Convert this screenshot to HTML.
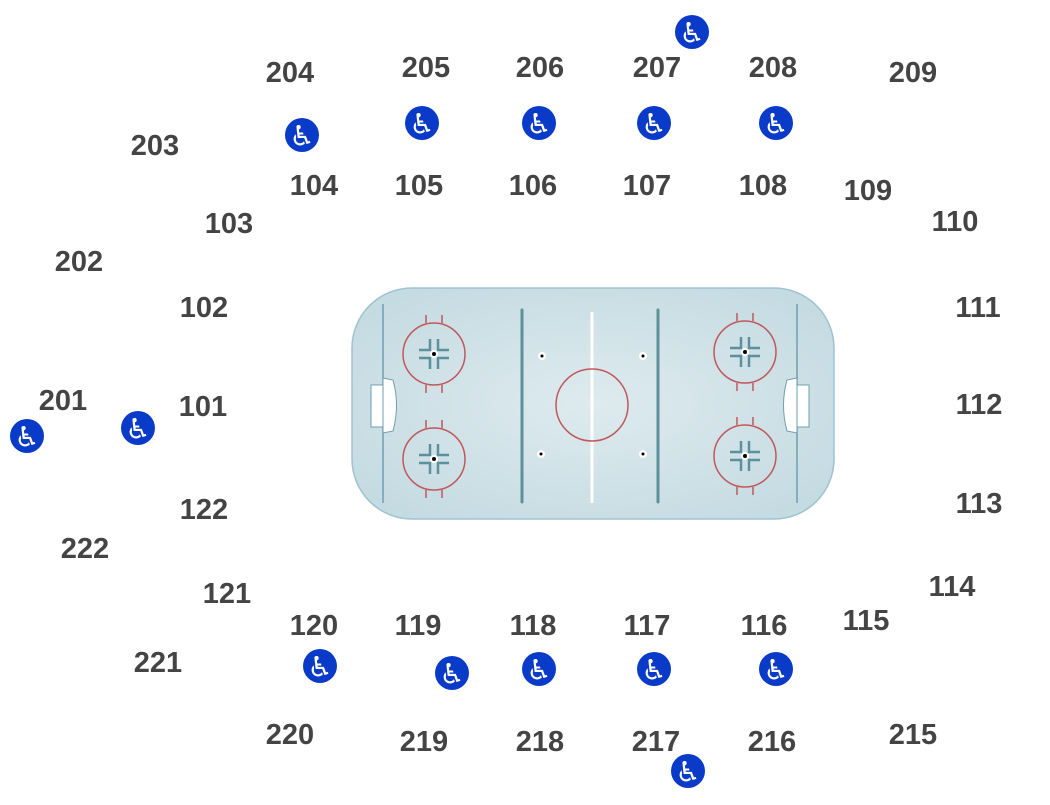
<!DOCTYPE html>
<html><head><meta charset="utf-8"><style>
body{margin:0;background:#fff;width:1050px;height:800px;overflow:hidden}
svg text{font-family:"Liberation Sans",Arial,sans-serif;font-weight:bold;font-size:29px;fill:#444;text-anchor:middle;dominant-baseline:central}
svg text.w{font-family:"DejaVu Sans",sans-serif;font-weight:normal;font-size:28px;fill:#fff}
</style></head><body>
<svg width="1050" height="800" viewBox="0 0 1050 800">
<defs><radialGradient id="g" cx="0.5" cy="0.5" r="0.6"><stop offset="0" stop-color="#deebef"/><stop offset="1" stop-color="#c5dbe2"/></radialGradient>
<g id="fo">
<circle cx="0" cy="0" r="31" fill="none" stroke="#c0585a" stroke-width="1.5"/>
<path d="M-8 -31 V-39 M8 -31 V-39 M-8 31 V39 M8 31 V39" stroke="#c0585a" stroke-width="1.5"/>
<path d="M-15 -4 H-4 V-15 M15 -4 H4 V-15 M-15 4 H-4 V15 M15 4 H4 V15" fill="none" stroke="#5e8f9c" stroke-width="2.5"/>
<circle r="4" fill="#fff"/><circle r="2" fill="#000"/>
</g>
<g id="ic"><circle r="17" fill="#0a3bc8"/><text class="w" y="1">♿</text></g>
</defs>
<rect x="352" y="288" width="482" height="231" rx="60" ry="60" fill="url(#g)" stroke="#9fc3cf" stroke-width="1.5"/>
<g stroke="#6f9fad" stroke-width="1.5"><line x1="383" y1="304" x2="383" y2="503"/><line x1="797" y1="304" x2="797" y2="503"/></g>
<g stroke="#5e8f9c" stroke-width="3" stroke-linecap="round"><line x1="522" y1="310" x2="522" y2="502"/><line x1="658" y1="310" x2="658" y2="502"/></g>
<line x1="592" y1="312" x2="592" y2="503" stroke="#fff" stroke-width="3"/>
<circle cx="592" cy="405" r="36" fill="none" stroke="#c0585a" stroke-width="1.5"/>
<g fill="#fff" stroke="#6f9fad" stroke-width="1"><rect x="371" y="385" width="12" height="42"/><path d="M383 378 L393 380 Q400 405 393 431 L383 433Z"/><rect x="797" y="385" width="12" height="42"/><path d="M797 378 L787 380 Q780 405 787 431 L797 433Z"/></g>
<use href="#fo" x="434" y="354"/><use href="#fo" x="434" y="459"/><use href="#fo" x="745" y="352"/><use href="#fo" x="745" y="456"/>
<g><circle cx="542" cy="356" r="4" fill="#fff"/><circle cx="542" cy="356" r="1.5"/><circle cx="643" cy="356" r="4" fill="#fff"/><circle cx="643" cy="356" r="1.5"/><circle cx="541" cy="454" r="4" fill="#fff"/><circle cx="541" cy="454" r="1.5"/><circle cx="643" cy="454" r="4" fill="#fff"/><circle cx="643" cy="454" r="1.5"/></g>
<g>
<text x="290" y="73">204</text><text x="426" y="68">205</text><text x="540" y="68">206</text><text x="657" y="68">207</text><text x="773" y="68">208</text><text x="913" y="73">209</text>
<text x="155" y="146">203</text><text x="314" y="186">104</text><text x="419" y="186">105</text><text x="533" y="186">106</text><text x="647" y="186">107</text><text x="763" y="186">108</text><text x="868" y="191">109</text><text x="955" y="222">110</text>
<text x="79" y="262">202</text><text x="229" y="224">103</text><text x="204" y="308">102</text><text x="978" y="308">111</text>
<text x="63" y="401">201</text><text x="203" y="407">101</text><text x="979" y="405">112</text>
<text x="204" y="510">122</text><text x="979" y="504">113</text><text x="85" y="549">222</text><text x="227" y="594">121</text><text x="952" y="587">114</text><text x="866" y="621">115</text>
<text x="314" y="626">120</text><text x="418" y="626">119</text><text x="533" y="626">118</text><text x="647" y="626">117</text><text x="764" y="626">116</text>
<text x="158" y="663">221</text><text x="290" y="735">220</text><text x="424" y="742">219</text><text x="540" y="742">218</text><text x="656" y="742">217</text><text x="772" y="742">216</text><text x="913" y="735">215</text>
</g>
<use href="#ic" x="692" y="32"/><use href="#ic" x="302" y="135"/><use href="#ic" x="422" y="123"/><use href="#ic" x="539" y="123"/><use href="#ic" x="654" y="123"/><use href="#ic" x="776" y="123"/><use href="#ic" x="27" y="436"/><use href="#ic" x="138" y="428"/><use href="#ic" x="320" y="666"/><use href="#ic" x="452" y="673"/><use href="#ic" x="539" y="669"/><use href="#ic" x="654" y="669"/><use href="#ic" x="776" y="669"/><use href="#ic" x="688" y="771"/>
</svg>
</body></html>
